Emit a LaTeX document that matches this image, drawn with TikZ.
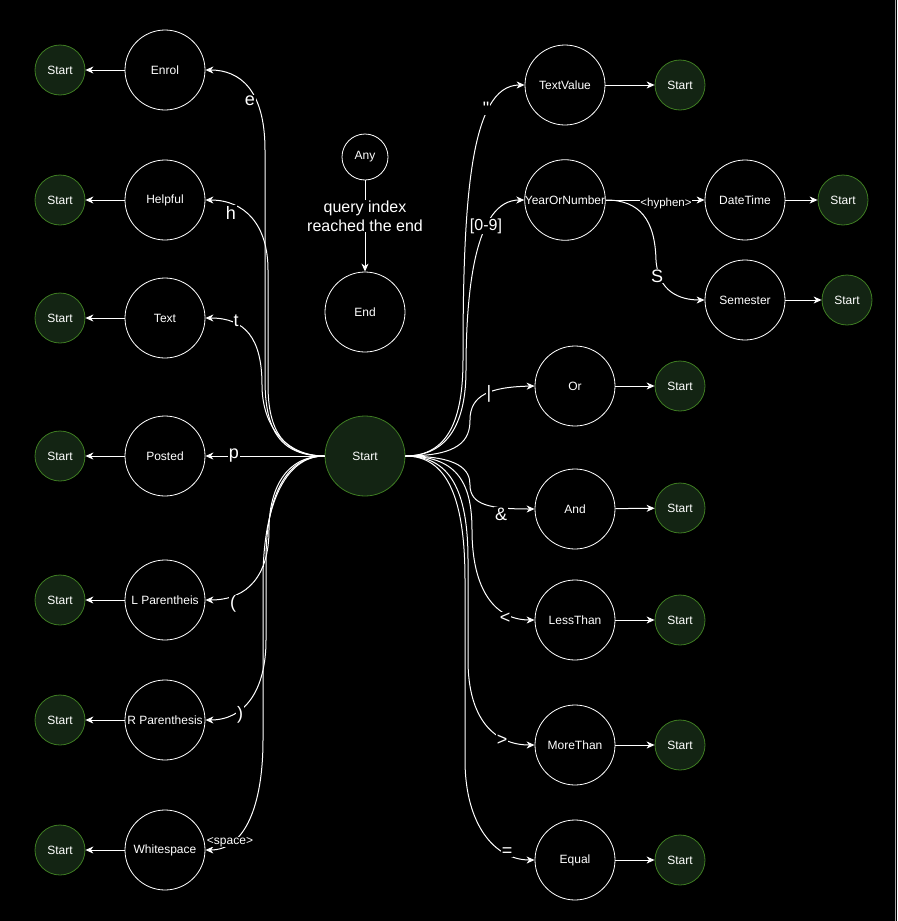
\documentclass[tikz,border=0pt]{standalone}
\usepackage{fontspec}
\setmainfont{Liberation Sans}
\newfontfamily\rawfont{Liberation Sans}
\usetikzlibrary{arrows.meta}
\definecolor{gfill}{HTML}{132413}
\definecolor{gline}{HTML}{3E7C22}
\begin{document}
\begin{tikzpicture}[x=1pt,y=-1pt,
  st/.style={circle,draw=white,line width=0.8pt,minimum size=80pt,inner sep=0pt,text=white,font=\fontsize{12}{14}\selectfont},
  gs/.style={circle,draw=gline,fill=gfill,line width=0.8pt,minimum size=50pt,inner sep=0pt,text=white,font=\fontsize{12}{14}\selectfont},
  edge/.style={draw=white,line width=1pt,-{Stealth[length=8pt,width=7pt,inset=2.5pt]}},
  lab/.style={fill=black,text=white,inner sep=1pt,font=\fontsize{18}{20}\selectfont},
  labm/.style={lab,font=\fontsize{16}{19}\selectfont},
  labs/.style={lab,inner sep=0.5pt,font=\fontsize{11.5}{13}\selectfont}]
\fill[black] (0,0) rectangle (897,921);
\useasboundingbox (0,0) rectangle (897,921);
\draw[gray!70!white,line width=1pt] (895.5,0) -- (895.5,921);

% left column
\node[gs] (s1) at (60,70) {Start};   \node[st] (enrol) at (165,70) {Enrol};
\node[gs] (s2) at (60,200) {Start};  \node[st] (helpful) at (165,200) {Helpful};
\node[gs] (s3) at (60,318) {Start};  \node[st] (text) at (165,318) {Text};
\node[gs] (s4) at (60,456) {Start};  \node[st] (posted) at (165,456) {Posted};
\node[gs] (s5) at (60,600) {Start};  \node[st] (lpar) at (165,600) {L Parentheis};
\node[gs] (s6) at (60,720) {Start};  \node[st] (rpar) at (165,720) {R Parenthesis};
\node[gs] (s7) at (60,850) {Start};  \node[st] (ws) at (165,850) {Whitespace};

% center
\node[gs,minimum size=80pt] (start) at (365,456) {Start};
\node[st,minimum size=46pt] (any) at (365,157) {Any};
\node[st] (end) at (365,312) {End};

% right column
\node[st] (tv) at (565,85) {TextValue};      \node[gs] (s8) at (680,85) {Start};
\node[st] (yn) at (565,200) {YearOrNumber};  \node[st] (dt) at (745,200) {DateTime};  \node[gs] (s9) at (843,200) {Start};
\node[st] (sem) at (745,300) {Semester};     \node[gs] (s10) at (847,300) {Start};
\node[st] (or) at (575,386) {Or};            \node[gs] (s11) at (680,386) {Start};
\node[st] (and) at (575,509) {And};          \node[gs] (s12) at (680,508) {Start};
\node[st] (lt) at (575,620) {LessThan};      \node[gs] (s13) at (680,620) {Start};
\node[st] (mt) at (575,745) {MoreThan};      \node[gs] (s14) at (680,745) {Start};
\node[st] (eq) at (575,860) {Equal};         \node[gs] (s15) at (680,860) {Start};

% straight edges to Start nodes
\foreach \a/\b in {enrol/s1,helpful/s2,text/s3,posted/s4,lpar/s5,rpar/s6,ws/s7,
                   tv/s8,dt/s9,sem/s10,or/s11,and/s12,lt/s13,mt/s14,eq/s15}
  \draw[edge] (\a) -- (\b);

% Any -> End
\draw[edge] (any) -- (end);

% left edges from center Start
\draw[edge] (start.west) .. controls (280,456) and (265,430) .. (265,380) -- (265,150) .. controls (265,90) and (240,70) .. (enrol.east);
\draw[edge] (start.west) .. controls (283,456) and (268,430) .. (268,385) -- (268,270) .. controls (268,225) and (245,200) .. (helpful.east);
\draw[edge] (start.west) .. controls (285,456) and (262,425) .. (262,385) .. controls (262,338) and (245,318) .. (text.east);
\draw[edge] (start.west) -- (posted.east);
\draw[edge] (start.west) .. controls (285,456) and (269,490) .. (269,530) .. controls (269,575) and (248,600) .. (lpar.east);
\draw[edge] (start.west) .. controls (284,456) and (266,500) .. (266,560) -- (266,640) .. controls (266,690) and (245,720) .. (rpar.east);
\draw[edge] (start.west) .. controls (283,456) and (263,510) .. (263,580) -- (263,740) .. controls (263,805) and (245,850) .. (ws.east);

% right edges from center Start
\draw[edge] (start.east) .. controls (448,456) and (463,420) .. (463,360) .. controls (463,200) and (470,85) .. (tv.west);
\draw[edge] (start.east) .. controls (450,456) and (466,420) .. (466,370) .. controls (466,290) and (475,200) .. (yn.west);
\draw[edge] (start.east) .. controls (460,456) and (470,440) .. (470,420) .. controls (470,395) and (490,387) .. (or.west);
\draw[edge] (start.east) .. controls (460,456) and (470,470) .. (470,485) .. controls (470,505) and (490,509) .. (and.west);
\draw[edge] (start.east) .. controls (455,456) and (472,480) .. (472,530) .. controls (472,590) and (495,620) .. (lt.west);
\draw[edge] (start.east) .. controls (450,456) and (468,490) .. (468,560) -- (468,660) .. controls (468,720) and (495,745) .. (mt.west);
\draw[edge] (start.east) .. controls (448,456) and (465,500) .. (465,580) -- (465,760) .. controls (465,825) and (495,860) .. (eq.west);

% YearOrNumber branches
\draw[edge] (yn.east) -- (dt.west);
\draw[edge] (yn.east) .. controls (640,200) and (655,220) .. (656,260) .. controls (658,292) and (680,300) .. (sem.west);

% labels
\node[labm,align=center,font=\fontsize{16}{19}\selectfont] (qlab) at (365,216) {query index\\reached the end};
\node[lab] (le) at (250,101) {e};
\node[lab] (lh) at (231,213) {h};
\node[lab] (lt2) at (236,321) {t};
\node[lab] (lp) at (234,456) {p};
\node[lab] (llp) at (233,604) {(};
\node[lab] (lrp) at (240,715) {)};
\node[labs,font=\fontsize{12}{14}\selectfont] (lsp) at (230,842) {<space>};
\node[lab,font=\fontsize{18}{20}\rawfont] (lq) at (486,108) {"};
\node[labm] (l09) at (486,226) {[0-9]};
\node[lab] (lor) at (489,394) {|};
\node[lab] (land) at (501,514) {\&};
\node[lab] (lless) at (505,618) {<};
\node[lab] (lmore) at (502,740) {>};
\node[lab] (leq) at (507,852) {=};
\node[labs] (lhy) at (666,204) {<hyphen>};
\node[lab] (lS) at (657,276) {S};
\end{tikzpicture}
\end{document}
